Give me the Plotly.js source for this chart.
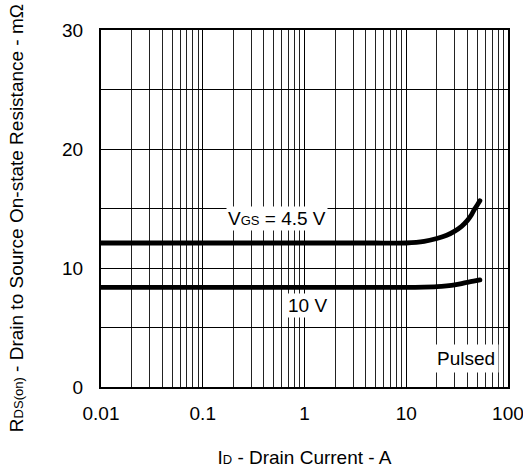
<!DOCTYPE html>
<html>
<head>
<meta charset="utf-8">
<script src="https://cdn.plot.ly/plotly-3.0.1.min.js"></script>
<style>html,body{margin:0;padding:0;background:#fff;}#chart{width:523px;height:472px;}#chart .scatterlayer path.js-line{stroke-linecap:round;}</style>
</head>
<body>
<div id="chart"></div>
<script>
// Drain current (A) and on-resistance (mOhm)
const idVgs45 = [0.01, 0.1, 1, 5, 10, 15, 20, 25, 30, 35, 40, 44, 47, 50, 53];
const rdsVgs45 = [12.1, 12.1, 12.1, 12.1, 12.1, 12.23, 12.48, 12.75, 13.1, 13.5, 14.0, 14.5, 14.95, 15.3, 15.65];
const idVgs10 = [0.01, 0.1, 1, 5, 10, 15, 20, 25, 30, 35, 40, 46, 53];
const rdsVgs10 = [8.37, 8.37, 8.37, 8.37, 8.37, 8.39, 8.43, 8.5, 8.58, 8.69, 8.8, 8.9, 9.0];

const xTickVals = [0.01, 0.1, 1, 10, 100];
const xTickText = ['0.01', '0.1', '1', '10', '100'];
const yTickVals = [0, 10, 20, 30];
const yTickText = ['0', '10', '20', '30'];

const labelVgs45 = 'V<span style="font-size:13px">GS</span> = 4.5 V';
const labelVgs10 = '10 V';
const labelPulsed = 'Pulsed';
const xTitle = 'I<span style="font-size:13px">D</span> - Drain Current - A';
const yTitle = 'R<span style="font-size:13px">DS(on)</span> - Drain to Source On-state Resistance - mΩ';

const font = {family: 'Liberation Sans, Arial, sans-serif', size: 19, color: '#000'};

const traces = [
  {x: idVgs45, y: rdsVgs45, mode: 'lines', line: {color: '#000', width: 4.8, shape: 'spline', smoothing: 0.5}, hoverinfo: 'none', showlegend: false},
  {x: idVgs10, y: rdsVgs10, mode: 'lines', line: {color: '#000', width: 4.8, shape: 'spline', smoothing: 0.5}, hoverinfo: 'none', showlegend: false}
];

const layout = {
  width: 523, height: 472,
  margin: {l: 101, r: 15, t: 30, b: 85},
  paper_bgcolor: '#fff', plot_bgcolor: '#fff',
  font: font,
  showlegend: false,
  xaxis: {
    type: 'log', range: [-2, 2.0005],
    tickvals: xTickVals, ticktext: xTickText,
    ticklabeloverflow: 'allow',
    ticks: 'outside', ticklen: 8, tickcolor: 'rgba(0,0,0,0)',
    showgrid: true, gridcolor: '#000', gridwidth: 1,
    minor: {dtick: 'D1', showgrid: true, gridcolor: '#222', gridwidth: 1, ticks: ''},
    showline: true, linecolor: '#000', linewidth: 2, mirror: true,
    zeroline: false,
    tickfont: font,
    title: {text: xTitle, font: font, standoff: 28}
  },
  yaxis: {
    range: [0, 30],
    tickvals: yTickVals, ticktext: yTickText,
    ticks: 'outside', ticklen: 12, tickcolor: 'rgba(0,0,0,0)',
    showgrid: true, gridcolor: '#000', gridwidth: 1,
    minor: {dtick: 5, showgrid: true, gridcolor: '#000', gridwidth: 1, ticks: ''},
    showline: true, linecolor: '#000', linewidth: 2, mirror: true,
    zeroline: false,
    tickfont: font
  },
  annotations: [
    {x: Math.log10(0.54), y: 14.2, xref: 'x', yref: 'y', text: labelVgs45, showarrow: false, bgcolor: '#fff', font: font, borderpad: 1},
    {x: Math.log10(1.08), y: 6.85, xref: 'x', yref: 'y', text: labelVgs10, showarrow: false, bgcolor: '#fff', font: font, borderpad: 1},
    {x: Math.log10(38.6), y: 2.4, xref: 'x', yref: 'y', text: labelPulsed, showarrow: false, bgcolor: '#fff', font: font, borderpad: 3},
    {x: 0, y: 0.473, xref: 'paper', yref: 'paper', xanchor: 'center', yanchor: 'middle', xshift: -85, textangle: -90, text: yTitle, showarrow: false, font: font}
  ]
};

Plotly.newPlot('chart', traces, layout, {staticPlot: true, displayModeBar: false});
</script>
</body>
</html>
